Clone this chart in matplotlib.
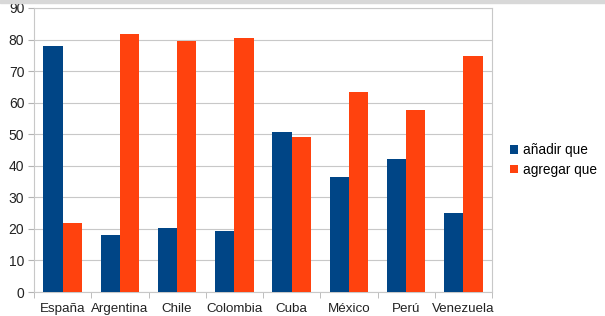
import matplotlib
matplotlib.use("Agg")
import matplotlib.pyplot as plt
import numpy as np
from matplotlib.patches import Rectangle

categories = ["España", "Argentina", "Chile", "Colombia", "Cuba", "México", "Perú", "Venezuela"]
anadir = [78.0, 18.2, 20.3, 19.4, 50.8, 36.4, 42.2, 24.9]
agregar = [22.0, 81.7, 79.6, 80.5, 49.1, 63.5, 57.7, 74.9]
series_names = ["añadir que", "agregar que"]
yticks = [0, 10, 20, 30, 40, 50, 60, 70, 80, 90]

plt.rcParams['font.family'] = ['Liberation Sans', 'DejaVu Sans']

fig = plt.figure(figsize=(6.05, 3.16), dpi=100)
ax = fig.add_axes([34/605, 1-292/316, (492-34)/605, (292-8)/316])

x = np.arange(len(categories))
w = 0.335
ax.bar(x - w/2, anadir, width=w, color="#004586", label=series_names[0], zorder=3)
ax.bar(x + w/2, agregar, width=w, color="#ff420e", label=series_names[1], zorder=3)

ax.set_xlim(-0.5, len(categories) - 0.5)
ax.set_ylim(0, 90)
ax.set_yticks(yticks)
ax.set_yticklabels([str(v) for v in yticks], fontsize=10, color="#222222")
ax.set_xticks(x)
ax.set_xticklabels(categories, fontsize=9.6, color="#222222")
ax.tick_params(axis='x', which='major', length=0, pad=8)
ax.set_xticks(np.arange(-0.5, len(categories), 1), minor=True)
ax.tick_params(axis='x', which='minor', length=4, color="#b3b3b3", direction='out')
ax.tick_params(axis='y', length=4, color="#b3b3b3", pad=3)
ax.yaxis.grid(True, color="#c8c8c8", linewidth=0.8, zorder=0)
for s in ['left', 'right', 'top', 'bottom']:
    ax.spines[s].set_color("#c8c8c8")
    ax.spines[s].set_linewidth(0.8)

leg = ax.legend(loc='center left', bbox_to_anchor=(1.028, 0.465), frameon=False,
                fontsize=9.8, handlelength=0.6, handleheight=0.6, handletextpad=0.35,
                labelspacing=0.4, borderaxespad=0)

fig.patches.append(Rectangle((0, 1-2.5/316), 1, 2.5/316, transform=fig.transFigure,
                             color="#d8d8d8", zorder=10))

fig.savefig("out.png", dpi=100)
